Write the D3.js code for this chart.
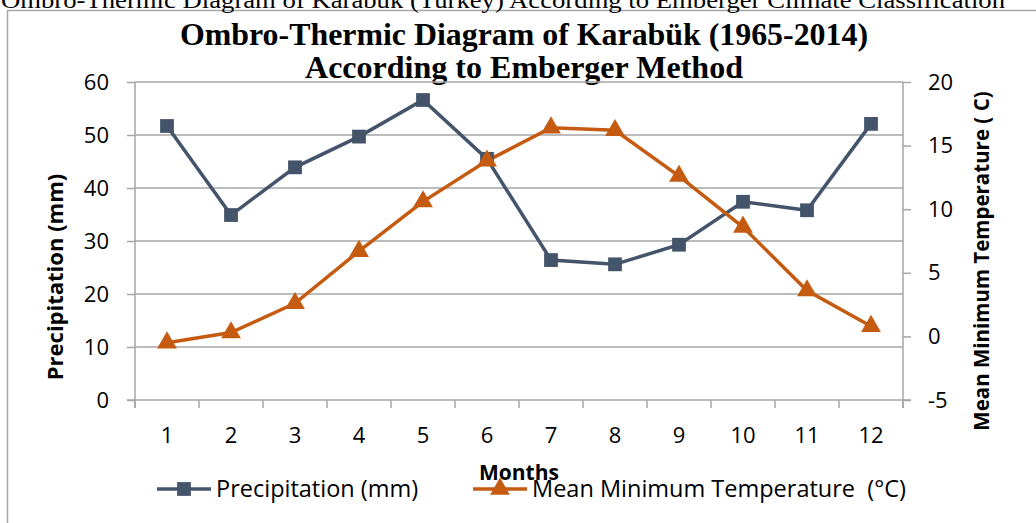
<!DOCTYPE html>
<html>
<head>
<meta charset="utf-8">
<script src="https://cdn.jsdelivr.net/npm/d3@7"></script>
<style>
  body { margin: 0; background: #fff; }
  svg { display: block; }
</style>
</head>
<body>
<svg id="chart" width="1036" height="523"></svg>
<script>
/* Data */
const months = [1, 2, 3, 4, 5, 6, 7, 8, 9, 10, 11, 12];
const precipitation = [51.7, 34.9, 43.9, 49.7, 56.6, 45.5, 26.4, 25.6, 29.3, 37.4, 35.8, 52.1];
const minTemperature = [-0.5, 0.3, 2.6, 6.7, 10.6, 13.8, 16.4, 16.2, 12.6, 8.6, 3.6, 0.8];
const precipTicks = [0, 10, 20, 30, 40, 50, 60];
const tempTicks = [-5, 0, 5, 10, 15, 20];

const precipColor = '#44546a';
const tempColor = '#c55a11';
const gridColor = '#a6a6a6';
const sans = '"Open Sans", sans-serif';
const serif = '"Liberation Serif", "Times New Roman", serif';

const svg = d3.select('#chart');

/* Scales */
const plot = { left: 135, right: 903, top: 82, bottom: 400 };
const x = d3.scaleBand().domain(months).range([plot.left, plot.right]);
const yLeft = d3.scaleLinear().domain([0, 60]).range([plot.bottom, plot.top]);
const yRight = d3.scaleLinear().domain([-5, 20]).range([plot.bottom, plot.top]);
const cx = m => x(m) + x.bandwidth() / 2;

/* Outer frame */
svg.append('rect')
    .attr('x', 7.5).attr('y', 10.5)
    .attr('width', 1040).attr('height', 530)
    .attr('fill', 'none')
    .attr('stroke', gridColor)
    .attr('stroke-width', 1.5);

/* Figure caption (cut by the page top) */
svg.append('text')
    .attr('x', 1).attr('y', 8)
    .attr('font-family', serif)
    .attr('font-size', 23)
    .attr('textLength', 1004)
    .attr('lengthAdjust', 'spacingAndGlyphs')
    .text('Ombro-Thermic Diagram of Karabük (Turkey) According to Emberger Climate Classification');

/* Chart title */
const title = svg.append('g')
    .attr('font-family', serif)
    .attr('font-weight', 'bold')
    .attr('font-size', 32)
    .attr('text-anchor', 'middle');
title.append('text')
    .attr('x', 524).attr('y', 45)
    .attr('textLength', 688)
    .attr('lengthAdjust', 'spacingAndGlyphs')
    .text('Ombro-Thermic Diagram of Karabük (1965-2014)');
title.append('text')
    .attr('x', 524).attr('y', 78)
    .attr('textLength', 438)
    .attr('lengthAdjust', 'spacingAndGlyphs')
    .text('According to Emberger Method');

/* Grid lines */
svg.append('g')
    .attr('class', 'y-grid-lines')
    .selectAll('line')
    .data(precipTicks.filter(d => d > 0))
    .join('line')
    .attr('x1', plot.left).attr('x2', plot.right)
    .attr('y1', d => yLeft(d)).attr('y2', d => yLeft(d))
    .attr('stroke', gridColor)
    .attr('stroke-width', 1.5);

/* Left axis */
const leftAxis = svg.append('g')
    .attr('transform', `translate(${plot.left},0)`)
    .call(d3.axisLeft(yLeft).tickValues(precipTicks).tickFormat(d => String(d))
        .tickSize(8).tickPadding(18));

/* Right axis */
const rightAxis = svg.append('g')
    .attr('transform', `translate(${plot.right},0)`)
    .call(d3.axisRight(yRight).tickValues(tempTicks).tickFormat(d => String(d))
        .tickSize(8).tickPadding(17));

/* Bottom axis: labels at band centers, ticks at band edges */
const bottomAxis = svg.append('g')
    .attr('transform', `translate(0,${plot.bottom})`)
    .call(d3.axisBottom(x).tickSize(0).tickPadding(27));
svg.append('g')
    .attr('class', 'x-tick-marks')
    .selectAll('line')
    .data(months.map(m => x(m)).concat([plot.right]))
    .join('line')
    .attr('x1', d => d).attr('x2', d => d)
    .attr('y1', plot.bottom).attr('y2', plot.bottom + 8)
    .attr('stroke', gridColor)
    .attr('stroke-width', 1.5);
svg.append('line')
    .attr('x1', plot.left - 8).attr('x2', plot.right + 8)
    .attr('y1', plot.bottom).attr('y2', plot.bottom)
    .attr('stroke', gridColor)
    .attr('stroke-width', 1.5);

for (const axis of [leftAxis, rightAxis, bottomAxis]) {
  axis.selectAll('.domain').remove();
  axis.selectAll('line').attr('stroke', gridColor).attr('stroke-width', 1.5);
  axis.selectAll('text')
      .attr('font-family', sans)
      .attr('font-size', 22)
      .attr('fill', '#000');
}
/* Vertical axis lines running a bit below the bottom axis */
for (const xPos of [plot.left, plot.right]) {
  svg.append('line')
      .attr('x1', xPos).attr('x2', xPos)
      .attr('y1', plot.top).attr('y2', plot.bottom + 8)
      .attr('stroke', gridColor)
      .attr('stroke-width', 1.5);
}

/* Axis titles */
svg.append('text')
    .attr('transform', 'translate(63,277) rotate(-90)')
    .attr('text-anchor', 'middle')
    .attr('font-family', sans)
    .attr('font-weight', 'bold')
    .attr('font-size', 22)
    .text('Precipitation (mm)');
svg.append('text')
    .attr('transform', 'translate(989,261) rotate(-90)')
    .attr('text-anchor', 'middle')
    .attr('font-family', sans)
    .attr('font-weight', 'bold')
    .attr('font-size', 20.5)
    .text('Mean Minimum Temperature ( C)');

/* Data lines */
const precipLine = d3.line()
    .x((d, i) => cx(months[i]))
    .y(d => yLeft(d));
const tempLine = d3.line()
    .x((d, i) => cx(months[i]))
    .y(d => yRight(d));

svg.append('path')
    .datum(precipitation)
    .attr('d', precipLine)
    .attr('fill', 'none')
    .attr('stroke', precipColor)
    .attr('stroke-width', 3.5);
svg.append('path')
    .datum(minTemperature)
    .attr('d', tempLine)
    .attr('fill', 'none')
    .attr('stroke', tempColor)
    .attr('stroke-width', 3.5);

const square = d3.symbol().type(d3.symbolSquare).size(190);
const triangle = d3.symbol().type(d3.symbolTriangle).size(170);

svg.append('g')
    .selectAll('path')
    .data(precipitation)
    .join('path')
    .attr('transform', (d, i) => `translate(${cx(months[i])},${yLeft(d)})`)
    .attr('d', square)
    .attr('fill', precipColor);
svg.append('g')
    .selectAll('path')
    .data(minTemperature)
    .join('path')
    .attr('transform', (d, i) => `translate(${cx(months[i])},${yRight(d)})`)
    .attr('d', triangle)
    .attr('fill', tempColor);

/* X axis title */
svg.append('text')
    .attr('x', 519).attr('y', 480)
    .attr('text-anchor', 'middle')
    .attr('font-family', sans)
    .attr('font-weight', 'bold')
    .attr('font-size', 21)
    .text('Months');

/* Legend */
const legendItems = [
  { label: 'Precipitation (mm)', color: precipColor, symbol: square, x0: 157 },
  { label: 'Mean Minimum Temperature  (°C)', color: tempColor, symbol: triangle, x0: 473 }
];
const legendY = 489;
const legend = svg.append('g').attr('class', 'legend');
for (const item of legendItems) {
  legend.append('line')
      .attr('x1', item.x0).attr('x2', item.x0 + 54)
      .attr('y1', legendY).attr('y2', legendY)
      .attr('stroke', item.color)
      .attr('stroke-width', 3.5);
  legend.append('path')
      .attr('transform', `translate(${item.x0 + 27},${legendY})`)
      .attr('d', item.symbol)
      .attr('fill', item.color);
  legend.append('text')
      .attr('x', item.x0 + 59).attr('y', legendY)
      .attr('dy', '0.35em')
      .attr('font-family', sans)
      .attr('font-size', 23.5)
      .style('white-space', 'pre')
      .text(item.label);
}
</script>
</body>
</html>
